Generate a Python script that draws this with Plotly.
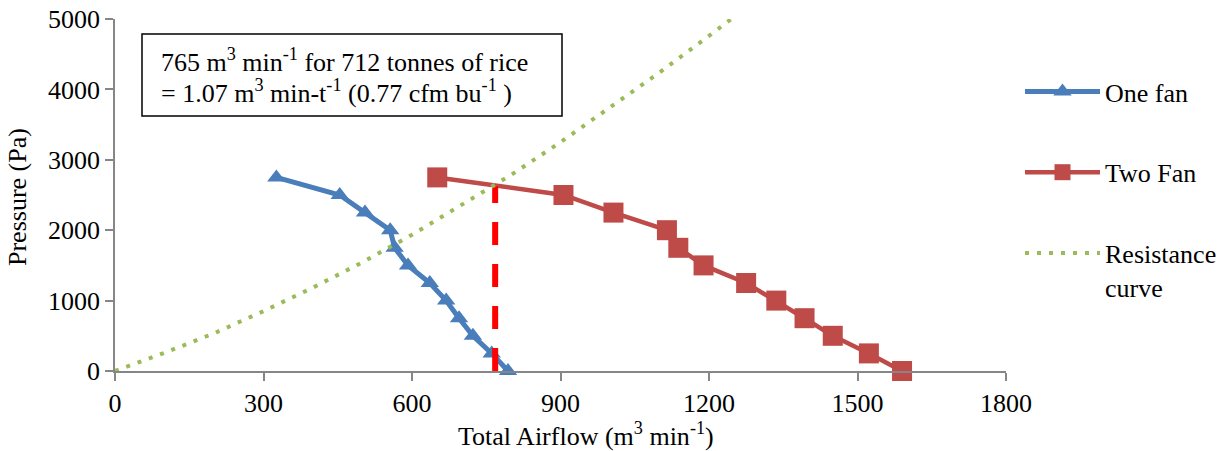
import plotly.graph_objects as go

# ---- data ----
one_fan_x = [326, 454, 505, 556, 565, 592, 636, 669, 695, 723, 761, 794]
one_fan_y = [2750, 2500, 2250, 2000, 1750, 1500, 1250, 1000, 750, 500, 250, 0]

two_fan_x = [651, 906, 1007, 1115, 1138, 1189, 1275, 1336, 1393, 1450, 1523, 1590]
two_fan_y = [2750, 2500, 2250, 2000, 1750, 1500, 1250, 1000, 750, 500, 250, 0]

resist_x = [0, 100, 200, 300, 400, 500, 600, 700, 800, 900, 1000, 1100, 1200, 1245]
resist_y = [0, 258, 535, 850, 1185, 1545, 1935, 2360, 2785, 3250, 3740, 4240, 4760, 5000]

operating_x = [768, 768]
operating_y = [0, 2625]

x_ticks = [0, 300, 600, 900, 1200, 1500, 1800]
y_ticks = [0, 1000, 2000, 3000, 4000, 5000]

FONT = "'Liberation Serif', Tinos, 'Times New Roman', Times, 'DejaVu Serif', serif"
BLUE = "#4A7EBB"
RED = "#BE4B48"
GREEN = "#9BBB59"
AXIS = "#868686"

W, H = 1226, 451
ML, MR, MT, MB = 115, 220, 19, 80
PW, PH = W - ML - MR, H - MT - MB


def px_x(p):
    return (p - ML) / PW


def px_y(p):
    return (H - MB - p) / PH


fig = go.Figure()

fig.add_trace(go.Scatter(
    x=one_fan_x, y=one_fan_y, name="One fan", mode="lines+markers",
    line=dict(color=BLUE, width=5),
    marker=dict(symbol="triangle-up", size=16, color=BLUE),
    legendgroup="a", cliponaxis=False))

fig.add_trace(go.Scatter(
    x=two_fan_x, y=two_fan_y, name="Two Fan", mode="lines+markers",
    line=dict(color=RED, width=4.5),
    marker=dict(symbol="square", size=20, color=RED),
    legendgroup="b", cliponaxis=False))

fig.add_trace(go.Scatter(
    x=operating_x, y=operating_y, mode="lines", showlegend=False,
    line=dict(color="#FF0000", width=6, dash="23px,19px"),
    cliponaxis=False))

fig.add_trace(go.Scatter(
    x=resist_x, y=resist_y, name="Resistance<br>curve", mode="lines",
    line=dict(color=GREEN, width=4, dash="4px,8px"),
    legendgroup="c", cliponaxis=False))

axis_common = dict(
    showgrid=False, zeroline=False, showline=True, linecolor=AXIS, linewidth=1.5,
    ticks="outside", ticklen=8, tickcolor=AXIS, tickwidth=1.5,
    tickfont=dict(family=FONT, size=26, color="black"),
)

fig.update_layout(
    width=W, height=H,
    margin=dict(l=ML, r=MR, t=MT, b=MB, pad=0, autoexpand=False),
    paper_bgcolor="white", plot_bgcolor="white",
    font=dict(family=FONT, size=26, color="black"),
    xaxis=dict(range=[0, 1800], tickvals=x_ticks, automargin=False, **axis_common),
    yaxis=dict(range=[0, 5000], tickvals=y_ticks, automargin=False,
               ticksuffix="\u00a0\u200a", **axis_common),
    showlegend=True,
    legend=dict(
        x=px_x(1020), y=px_y(68), xanchor="left", yanchor="top",
        traceorder="grouped", tracegroupgap=44, valign="top",
        itemwidth=75, font=dict(family=FONT, size=26, color="black"),
        bgcolor="rgba(0,0,0,0)",
    ),
)

# annotation box
fig.add_shape(type="rect", xref="paper", yref="paper",
              x0=px_x(142), x1=px_x(562), y0=px_y(116), y1=px_y(34),
              line=dict(color="black", width=1.5), fillcolor="white", layer="above")

fig.add_annotation(xref="paper", yref="paper", x=px_x(159), y=px_y(61),
                   xanchor="left", yanchor="middle", showarrow=False,
                   text="765 m<sup>3</sup> min<sup>-1</sup> for 712 tonnes of rice",
                   font=dict(family=FONT, size=26, color="black"))
fig.add_annotation(xref="paper", yref="paper", x=px_x(159), y=px_y(91),
                   xanchor="left", yanchor="middle", showarrow=False,
                   text="= 1.07 m<sup>3</sup> min-t<sup>-1</sup> (0.77 cfm bu<sup>-1</sup> )",
                   font=dict(family=FONT, size=26, color="black"))

# axis titles
fig.add_annotation(xref="paper", yref="paper", x=px_x(586), y=px_y(434),
                   xanchor="center", yanchor="middle", showarrow=False,
                   text="Total Airflow (m<sup>3</sup> min<sup>-1</sup>)",
                   font=dict(family=FONT, size=26, color="black"))
fig.add_annotation(xref="paper", yref="paper", x=px_x(18), y=px_y(197),
                   xanchor="center", yanchor="middle", showarrow=False, textangle=-90,
                   text="Pressure (Pa)",
                   font=dict(family=FONT, size=26, color="black"))

fig.write_html("out.html")
